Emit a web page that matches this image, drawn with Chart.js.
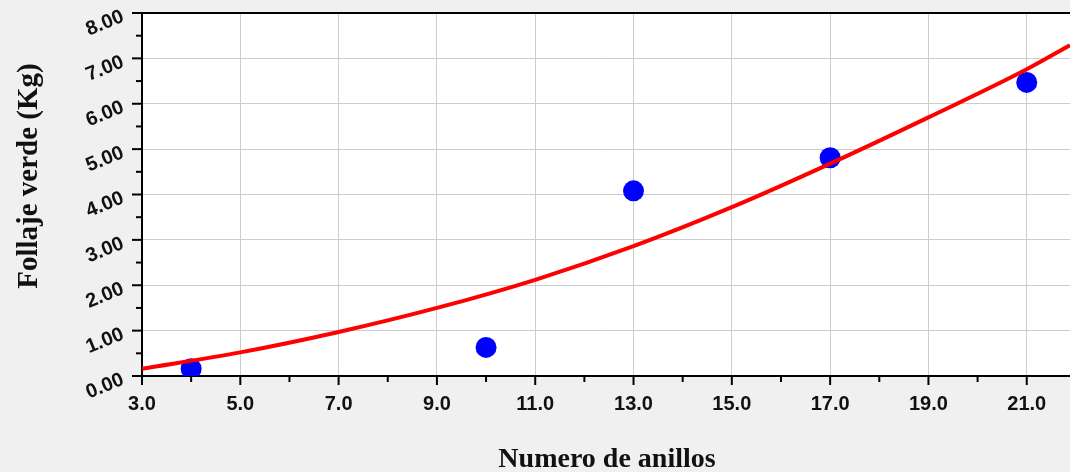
<!DOCTYPE html>
<html>
<head>
<meta charset="utf-8">
<script src="https://cdn.jsdelivr.net/npm/chart.js@4.4.1/dist/chart.umd.min.js"></script>
<style>
  html, body { margin: 0; padding: 0; background: #f0f0f0; overflow: hidden; }
  #wrap { width: 1070px; height: 472px; }
</style>
</head>
<body>
<div id="wrap"><canvas id="chart" width="1070" height="472"></canvas></div>
<script>
// data
const anillos = [4, 10, 13, 17, 21];
const follaje = [0.16, 0.63, 4.08, 4.81, 6.47];

const curveX = [3, 5, 7, 9, 11, 13, 15, 17, 19, 21, 21.88];
const curveY = [0.16, 0.52, 0.97, 1.50, 2.12, 2.86, 3.72, 4.68, 5.70, 6.76, 7.29];

const xLabels = ["3.0", "5.0", "7.0", "9.0", "11.0", "13.0", "15.0", "17.0", "19.0", "21.0"];
const yLabels = ["0.00", "1.00", "2.00", "3.00", "4.00", "5.00", "6.00", "7.00", "8.00"];

const xTitle = "Numero de anillos";
const yTitle = "Follaje verde (Kg)";

document.addEventListener("DOMContentLoaded", () => {

  const isMajorX = v => Number.isInteger((v - 3) / 2);
  const isMajorY = v => Number.isInteger(v);

  // grey page, white plot box, black frame
  const framePlugin = {
    id: "frame",
    beforeDraw(chart) {
      const { ctx, chartArea: a } = chart;
      ctx.save();
      ctx.fillStyle = "#f0f0f0";
      ctx.fillRect(0, 0, chart.width, chart.height);
      ctx.fillStyle = "#ffffff";
      ctx.fillRect(a.left, a.top, a.right - a.left, a.bottom - a.top);
      ctx.restore();
    },
    afterDraw(chart) {
      const { ctx, chartArea: a, scales } = chart;
      ctx.save();
      ctx.strokeStyle = "#000000";
      ctx.lineWidth = 2;
      ctx.beginPath();
      ctx.moveTo(a.left, a.top);
      ctx.lineTo(a.right, a.top);
      ctx.stroke();

      // tick marks, major and minor
      scales.x.ticks.forEach(t => {
        if (!Number.isInteger(t.value)) return;
        const px = scales.x.getPixelForValue(t.value);
        const len = isMajorX(t.value) ? 9 : 6;
        ctx.beginPath();
        ctx.moveTo(px, a.bottom);
        ctx.lineTo(px, a.bottom + len);
        ctx.stroke();
      });
      scales.y.ticks.forEach(t => {
        const py = scales.y.getPixelForValue(t.value);
        const len = isMajorY(t.value) ? 10 : 6;
        ctx.beginPath();
        ctx.moveTo(a.left, py);
        ctx.lineTo(a.left - len, py);
        ctx.stroke();
      });

      // axis titles
      ctx.fillStyle = "#111111";
      ctx.font = "bold 28px 'Liberation Serif', 'Times New Roman', serif";
      ctx.textAlign = "center";
      ctx.textBaseline = "alphabetic";
      ctx.fillText(xTitle, 607, 467);

      ctx.translate(37, 176);
      ctx.rotate(-Math.PI / 2);
      ctx.font = "bold 29px 'Liberation Serif', 'Times New Roman', serif";
      ctx.fillText(yTitle, 0, 0);
      ctx.restore();
    }
  };

  const canvas = document.getElementById("chart");

  new Chart(canvas, {
    data: {
      datasets: [
        {
          type: "line",
          label: "Ajuste",
          data: curveX.map((x, i) => ({ x, y: curveY[i] })),
          borderColor: "#ff0000",
          borderWidth: 4,
          pointRadius: 0,
          cubicInterpolationMode: "monotone",
          fill: false,
          order: 0
        },
        {
          type: "scatter",
          label: "Datos",
          data: anillos.map((x, i) => ({ x, y: follaje[i] })),
          backgroundColor: "#0000ff",
          borderColor: "#0000ff",
          borderWidth: 0,
          pointRadius: 10.5,
          order: 1
        }
      ]
    },
    options: {
      responsive: false,
      animation: false,
      layout: {
        autoPadding: false,
        padding: { top: 13, right: 0, left: 0, bottom: 0 }
      },
      plugins: {
        legend: { display: false },
        tooltip: { enabled: false }
      },
      scales: {
        x: {
          type: "linear",
          min: 3,
          max: 21.88,
          afterFit: s => {
            s.height = 96;
            s.paddingLeft = 0;
            s.paddingRight = 0;
          },
          ticks: {
            stepSize: 1,
            includeBounds: false,
            autoSkip: false,
            maxRotation: 0,
            padding: 16,
            color: "#111111",
            font: { family: "'Liberation Sans', Arial", size: 20, weight: "bold" },
            callback: v => isMajorX(v) ? xLabels[(v - 3) / 2] : ""
          },
          grid: {
            drawTicks: false,
            color: c => c.tick && isMajorX(c.tick.value) ? "#cccccc" : "rgba(0,0,0,0)",
            lineWidth: 1
          },
          border: { color: "#000000", width: 2 }
        },
        y: {
          type: "linear",
          min: 0,
          max: 8,
          afterFit: s => {
            s.width = 142;
            s.paddingTop = 0;
            s.paddingBottom = 0;
          },
          ticks: {
            stepSize: 0.5,
            autoSkip: false,
            minRotation: 22,
            maxRotation: 22,
            padding: 19,
            labelOffset: 3,
            color: "#111111",
            font: { family: "'Liberation Sans', Arial", size: 20, weight: "bold" },
            callback: v => isMajorY(v) ? yLabels[v] : ""
          },
          grid: {
            drawTicks: false,
            color: c => c.tick && isMajorY(c.tick.value) ? "#cccccc" : "rgba(0,0,0,0)",
            lineWidth: 1
          },
          border: { color: "#000000", width: 2 }
        }
      }
    },
    plugins: [framePlugin]
  });

});
</script>
</body>
</html>
